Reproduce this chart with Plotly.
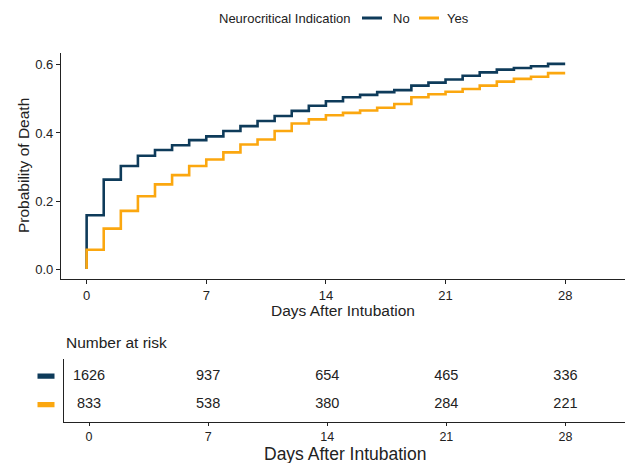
import plotly.graph_objects as go

# ---- data ----
days = list(range(0, 28))
no_prob = [0.158, 0.263, 0.303, 0.333, 0.350, 0.364, 0.379, 0.390, 0.406, 0.420,
           0.435, 0.450, 0.465, 0.480, 0.493, 0.505, 0.512, 0.520, 0.526, 0.539,
           0.548, 0.557, 0.568, 0.578, 0.586, 0.591, 0.596, 0.603]
yes_prob = [0.057, 0.119, 0.171, 0.214, 0.249, 0.276, 0.303, 0.322, 0.343, 0.366,
            0.381, 0.406, 0.428, 0.440, 0.452, 0.459, 0.466, 0.474, 0.485, 0.505,
            0.514, 0.521, 0.529, 0.539, 0.551, 0.559, 0.565, 0.576]
end_day = 28
risk_times = [0, 7, 14, 21, 28]
risk_no = [1626, 937, 654, 465, 336]
risk_yes = [833, 538, 380, 284, 221]
y_ticks = [0.0, 0.2, 0.4, 0.6]
group_names = ["No", "Yes"]
legend_title = "Neurocritical Indication"

C_NO = "#0E3B5A"
C_YES = "#FBA70F"
AX = "#222222"
FONT = "Liberation Sans, Arial, Helvetica, sans-serif"
W, H = 631, 463


def px(x):
    return x / W


def py(y):
    return (H - y) / H


fig = go.Figure()
for name, vals, col in [("No", no_prob, C_NO), ("Yes", yes_prob, C_YES)]:
    fig.add_trace(go.Scatter(
        x=[0] + days + [end_day], y=[0] + vals + [vals[-1]],
        mode="lines", line=dict(color=col, width=2.6, shape="hv"),
        name=name, showlegend=False, xaxis="x", yaxis="y"))

# risk table numbers
for vals, ypos in [(risk_no, 2), (risk_yes, 1)]:
    fig.add_trace(go.Scatter(
        x=risk_times, y=[ypos] * len(risk_times), mode="text",
        text=[str(v) for v in vals], textposition="middle center",
        textfont=dict(size=14.5, color=AX, family=FONT),
        showlegend=False, xaxis="x2", yaxis="y2", hoverinfo="skip"))

axis_common = dict(showline=True, linecolor=AX, linewidth=1.3, ticks="outside",
                   ticklen=4, tickwidth=1.2, tickcolor=AX, showgrid=False,
                   zeroline=False, tickfont=dict(size=13, color=AX, family=FONT))
axis_table = dict(axis_common)
axis_table["ticklen"] = 3
axis_table["tickfont"] = dict(size=12.5, color=AX, family=FONT)

fig.update_layout(
    width=W, height=H,
    margin=dict(l=0, r=0, t=0, b=0),
    paper_bgcolor="white", plot_bgcolor="white",
    font=dict(family=FONT, color=AX),
    xaxis=dict(domain=[px(61), px(625)], range=[-1.5, 31.5],
               tickvals=risk_times, anchor="y", **axis_common),
    yaxis=dict(domain=[py(279.3), py(53)], range=[-0.03, 0.635],
               tickvals=y_ticks, tickformat=".1f", anchor="x", **axis_common),
    xaxis2=dict(domain=[px(63.5), px(625)], range=[-1.5, 31.5],
                tickvals=risk_times, anchor="y2", **axis_table),
    yaxis2=dict(domain=[py(421.7), py(359)], range=[0.4, 2.6],
                showline=True, linecolor=AX, linewidth=1.3, ticks="",
                showticklabels=False, showgrid=False, zeroline=False,
                anchor="x2"),
)

annotations = [
    dict(text="Days After Intubation", x=px(343), y=py(310), xref="paper", yref="paper",
         xanchor="center", yanchor="middle", showarrow=False, font=dict(size=15.5, color=AX)),
    dict(text="Probability of Death", x=px(23), y=py(166), xref="paper", yref="paper",
         xanchor="center", yanchor="middle", textangle=-90, showarrow=False,
         font=dict(size=15.5, color=AX)),
    dict(text="Number at risk", x=px(64), y=py(342), xref="paper", yref="paper",
         xanchor="left", yanchor="middle", showarrow=False, font=dict(size=15.5, color=AX)),
    dict(text="Days After Intubation", x=px(345), y=py(454), xref="paper", yref="paper",
         xanchor="center", yanchor="middle", showarrow=False, font=dict(size=17.5, color=AX)),
    dict(text=legend_title, x=px(217), y=py(18), xref="paper", yref="paper",
         xanchor="left", yanchor="middle", showarrow=False, font=dict(size=13, color=AX)),
    dict(text=group_names[0], x=px(391), y=py(18), xref="paper", yref="paper",
         xanchor="left", yanchor="middle", showarrow=False, font=dict(size=13, color=AX)),
    dict(text=group_names[1], x=px(445), y=py(18), xref="paper", yref="paper",
         xanchor="left", yanchor="middle", showarrow=False, font=dict(size=13, color=AX)),
]
fig.update_layout(annotations=annotations)

shapes = [
    dict(type="line", xref="paper", yref="paper", x0=px(362), x1=px(382), y0=py(18), y1=py(18),
         line=dict(color=C_NO, width=3)),
    dict(type="line", xref="paper", yref="paper", x0=px(419), x1=px(439), y0=py(18), y1=py(18),
         line=dict(color=C_YES, width=3)),
    dict(type="rect", xref="paper", yref="y2", x0=px(37.5), x1=px(54.5), y0=2 - 0.09, y1=2 + 0.09,
         fillcolor=C_NO, line=dict(width=0)),
    dict(type="rect", xref="paper", yref="y2", x0=px(37.5), x1=px(54.5), y0=1 - 0.09, y1=1 + 0.09,
         fillcolor=C_YES, line=dict(width=0)),
]
fig.update_layout(shapes=shapes)

fig.write_html("out.html", config={"displayModeBar": False},
               post_script="document.body.style.margin='0';document.body.style.padding='0';")
